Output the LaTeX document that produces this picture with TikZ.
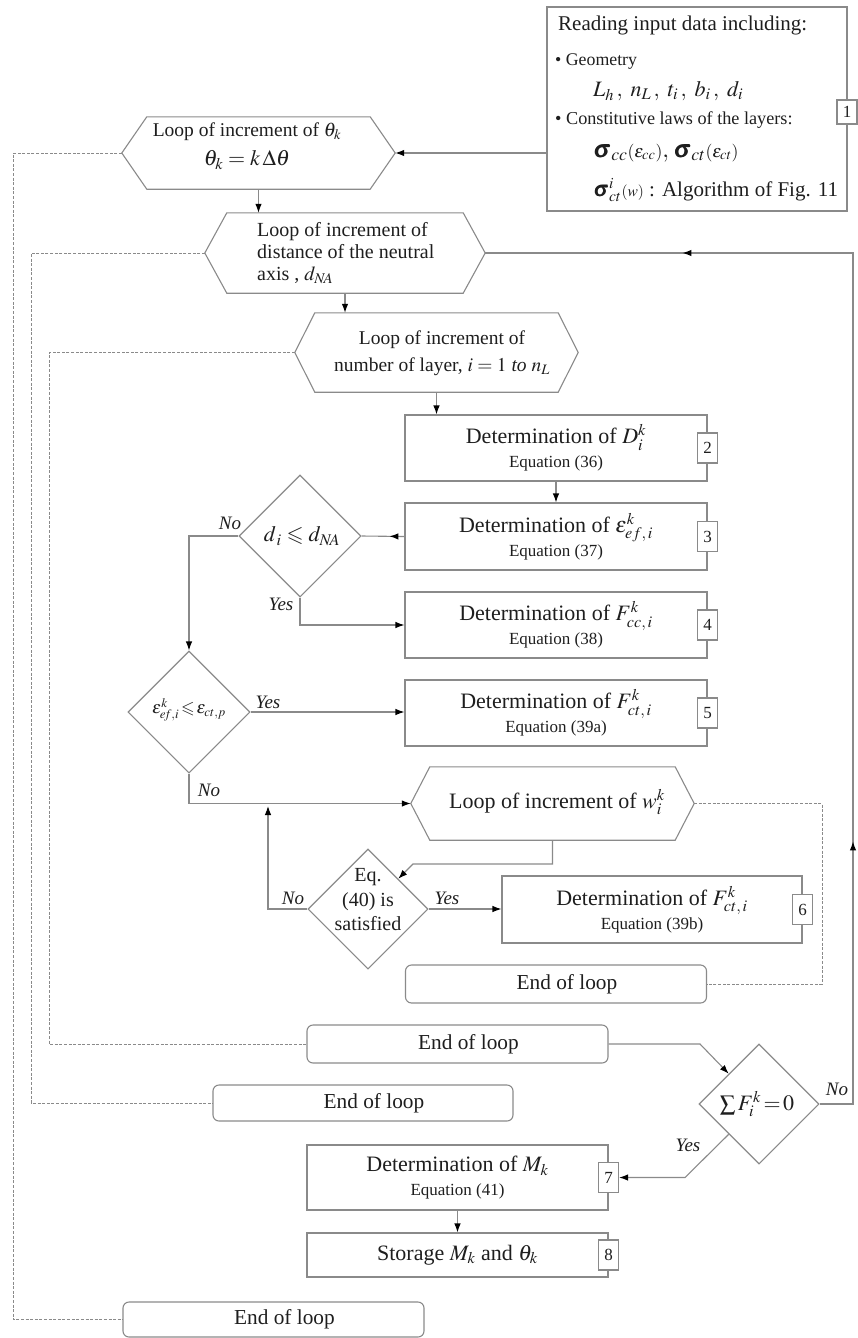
\documentclass[tikz,border=0pt]{standalone}
\usepackage{amsmath}
\usepackage{mathptmx}
\usepackage{amssymb}
\usepackage{fontspec}
\setmainfont{Liberation Serif}
\usetikzlibrary{arrows.meta,shapes.geometric,decorations.markings,calc}
\definecolor{lgray}{HTML}{8A8A8A}
\definecolor{tcol}{HTML}{1E1E1E}
\newcommand\fsz[2]{\fontsize{#1}{#2}\selectfont}
\newcommand\eqt[1]{{\fsz{17}{18}#1}}
\newcommand\eol{\hspace*{22pt}End of loop}
\tikzset{
  tipA/.tip={Latex[length=9pt,width=6.5pt,color=black]},
  gline/.style={draw=lgray, line width=1.1pt},
  arr/.style={gline, -tipA},
  midarr/.style={postaction={decorate}, decoration={markings, mark=at position #1 with {\arrow{tipA}}}},
  dln/.style={draw=lgray, line width=1pt, dash pattern=on 3pt off 1.6pt},
  pbox/.style={gline, rectangle, inner sep=0pt, align=center, minimum width=302pt, minimum height=66pt, font=\fsz{22}{24}},
  ebox/.style={gline, rectangle, rounded corners=6pt, inner sep=0pt, minimum width=301pt, minimum height=37pt, font=\fsz{21.3}{24}},
  nbox/.style={gline, fill=white, rectangle, inner sep=0pt, minimum width=20pt, minimum height=30pt, font=\fsz{17}{20}},
  dia/.style={gline, diamond, aspect=1, inner sep=0pt, minimum width=122pt, minimum height=122pt},
  hexin/.style={rectangle, inner sep=0pt, draw=none},
  lab/.style={font=\itshape\fsz{19}{22}, inner sep=0pt},
  txt/.style={inner sep=0pt, anchor=west},
}
\begin{document}
\begin{tikzpicture}[x=1pt,y=-1pt,font=\fsz{20}{24},text=tcol]
\useasboundingbox (0,0) rectangle (857,1338);
% ---------------- input box
\node[gline, rectangle, minimum width=300pt, minimum height=204pt, inner sep=0pt] (inp) at (697,109) {};
\node[txt, font=\fsz{21}{24}] (t1) at (558,25) {Reading input data including:};
\node[txt, font=\fsz{17.8}{20}] (t2) at (555,62) {\textbullet\ Geometry};
\node[txt, font=\fsz{22}{24}] (t3) at (593,91) {$L_h\,,\ n_L\,,\ t_i\,,\ b_i\,,\ d_i$};
\node[txt, font=\fsz{18.2}{20}] (t4) at (555,120) {\textbullet\ Constitutive laws of the layers:};
\node[txt, font=\fsz{24}{26}] (t5) at (594,153) {$\pmb{\sigma}_{cc}{\scriptstyle(\varepsilon_{cc})},\,\pmb{\sigma}_{ct}{\scriptstyle(\varepsilon_{ct})}$};
\node[txt, font=\fsz{21}{24}] (t6) at (594,190) {$\pmb{\sigma}^{i}_{ct}{\scriptstyle(w)}$ : Algorithm of Fig. 11};
\node[nbox, minimum height=24pt] (n1) at (847,112) {1};
% ---------------- hexagon 1
\node[hexin, minimum width=223pt, minimum height=72pt] (h1) at (258.5,153) {};
\coordinate (h1e) at ($(h1.east)+(25,0)$);
\coordinate (h1w) at ($(h1.west)+(-25,0)$);
\draw[gline] (h1.north west) -- (h1.north east) -- (h1e) -- (h1.south east) -- (h1.south west) -- (h1w) -- cycle;
\node[align=center, font=\fsz{19.5}{29}, inner sep=0pt] (h1t) at (247,146) {Loop of increment of $\theta_k$\\{\fsz{22}{29}$\theta_k=k\,\Delta\theta$}};
% ---------------- hexagon 2
\node[hexin, minimum width=236pt, minimum height=80pt] (h2) at (345,253) {};
\coordinate (h2e) at ($(h2.east)+(22,0)$);
\coordinate (h2w) at ($(h2.west)+(-22,0)$);
\draw[gline] (h2.north west) -- (h2.north east) -- (h2e) -- (h2.south east) -- (h2.south west) -- (h2w) -- cycle;
\node[txt, align=left, font=\fsz{20}{22}] (h2t) at (257,253) {Loop of increment of\\distance of the neutral\\axis , $d_{N\!A}$};
% ---------------- hexagon 3
\node[hexin, minimum width=243pt, minimum height=79pt] (h3) at (436.5,352.5) {};
\coordinate (h3e) at ($(h3.east)+(20,0)$);
\coordinate (h3w) at ($(h3.west)+(-20,0)$);
\draw[gline] (h3.north west) -- (h3.north east) -- (h3e) -- (h3.south east) -- (h3.south west) -- (h3w) -- cycle;
\node[align=center, font=\fsz{19.5}{27}, inner sep=0pt] (h3t) at (442,353) {Loop of increment of\\number of layer, $i=1$ \textit{to} $n_L$};
% ---------------- process boxes
\node[pbox] (b2) at (556,448) {Determination of $D^k_i$\\\eqt{Equation (36)}};
\node[pbox, minimum height=67pt] (b3) at (556,536.5) {Determination of $\varepsilon^k_{ef,\,i}$\\\eqt{Equation (37)}};
\node[pbox] (b4) at (556,625) {Determination of $F^k_{cc,\,i}$\\\eqt{Equation (38)}};
\node[pbox] (b5) at (556,713) {Determination of $F^k_{ct,\,i}$\\\eqt{Equation (39a)}};
\node[pbox, minimum width=300pt, minimum height=67pt] (b6) at (652,909.5) {Determination of $F^k_{ct,\,i}$\\\eqt{Equation (39b)}};
\node[pbox, minimum width=301pt, minimum height=65pt] (b7) at (457.5,1177.5) {Determination of $M_k$\\\eqt{Equation (41)}};
\node[pbox, minimum width=301pt, minimum height=44pt] (b8) at (457.5,1255) {Storage $M_k$ and $\theta_k$};
\node[nbox] (n2) at (b2.east) {2};
\node[nbox] (n3) at (b3.east) {3};
\node[nbox] (n4) at (b4.east) {4};
\node[nbox] (n5) at (b5.east) {5};
\node[nbox] (n6) at (b6.east) {6};
\node[nbox] (n7) at (b7.east) {7};
\node[nbox] (n8) at (b8.east) {8};
% ---------------- hexagon 4
\node[hexin, minimum width=245pt, minimum height=73pt] (h4) at (552.5,803.5) {};
\coordinate (h4e) at ($(h4.east)+(19,0)$);
\coordinate (h4w) at ($(h4.west)+(-19,0)$);
\draw[gline] (h4.north west) -- (h4.north east) -- (h4e) -- (h4.south east) -- (h4.south west) -- (h4w) -- cycle;
\node[font=\fsz{22}{24}, inner sep=0pt] (h4t) at (557,802) {Loop of increment of $w_i^k$};
% ---------------- end of loop boxes
\node[ebox, minimum height=38pt] (e1) at (556,984) {\eol};
\node[ebox, minimum height=38pt] (e2) at (457.5,1044) {\eol};
\node[ebox, minimum width=300pt, minimum height=36pt] (e3) at (363,1103) {\eol};
\node[ebox, minimum height=35pt] (e4) at (273.5,1319.5) {\eol};
% ---------------- diamonds
\node[dia] (d1) at (300,536) {};
\node[font=\fsz{22}{24}, inner sep=0pt] (d1t) at (302,536) {$d_{\,i}\leqslant d_{N\!A}$};
\node[dia] (d2) at (189,712) {};
\node[font=\fsz{17.5}{24}, inner sep=0pt] (d2t) at (189,710) {$\varepsilon^{k}_{e\!f,i}\!\leqslant\!\varepsilon_{ct,p}$};
\node[dia, minimum width=120pt, minimum height=120pt] (d3) at (368,909) {};
\node[align=center, font=\fsz{20}{24.5}, inner sep=0pt] (d3t) at (368,900) {Eq.\\(40) is\\satisfied};
\node[dia, minimum width=120pt, minimum height=120pt] (d4) at (759,1104) {};
\node[font=\fsz{22}{24}, inner sep=0pt] (d4t) at (757,1104) {$\sum F_i^k\!=\!0$};
% ---------------- coordinates
\coordinate (j1) at (413,864);
\coordinate (j2) at (268,806);
\coordinate (j4) at (700,1044);
\coordinate (j5) at (685,1177.5);
\coordinate (rc1) at (853,1104);
\coordinate (rc2) at (853,253);
\coordinate (r4) at (822,803.5);
\coordinate (k1) at (13,1319.5);
\coordinate (k2) at (31,1103);
\coordinate (k3) at (49,1044);
% ---------------- connectors
\draw[arr] (inp.west |- h1e) -- (h1e);
\draw[arr] (h1.south) -- (h1.south |- h2.north);
\draw[arr] (h2.south) -- (h2.south |- h3.north);
\draw[arr] (h3.south) -- (h3.south |- b2.north);
\draw[arr] (b2.south) -- (b3.north);
\draw[gline, midarr=15pt] (b3.west) -- (d1.east);
\draw[arr] (d1.west) -| (d2.north);
\draw[arr] (d1.south) |- (b4.west);
\draw[arr] (d2.east) -- (d2.east -| b5.west);
\draw[arr] (d2.south) |- (h4w);
\draw[arr] (h4.south) |- (j1) -- (d3.north east);
\draw[arr] (d3.west) -| (j2);
\draw[arr] (d3.east) -- (d3.east -| b6.west);
\draw[arr] (e2.east) -- (j4) -- (d4.north west);
\draw[arr] (d4.south west) -- (j5) -- (n7.east);
\draw[arr] (b7.south) -- (b8.north);
\draw[gline, postaction={decorate}, decoration={markings,
    mark=at position 296pt with {\arrow{tipA}},
    mark=at position 1055pt with {\arrow{tipA}}}]
  (d4.east) -- (rc1) -- (rc2) -- (h2e);
% dashed loop returns
\draw[dln] (h4e) -- (r4) |- (e1.east);
\draw[dln] (h1w) -| (k1) -- (e4.west);
\draw[dln] (h2w) -| (k2) -- (e3.west);
\draw[dln] (h3w) -| (k3) -- (e2.west);
% ---------------- labels
\node[lab] (l1) at (230,523) {No};
\node[lab] (l2) at (281,604) {Yes};
\node[lab] (l3) at (268,702) {Yes};
\node[lab] (l4) at (209,790) {No};
\node[lab] (l5) at (293,898) {No};
\node[lab] (l6) at (447,898) {Yes};
\node[lab] (l7) at (837,1089) {No};
\node[lab] (l8) at (688,1145) {Yes};
\end{tikzpicture}
\end{document}
